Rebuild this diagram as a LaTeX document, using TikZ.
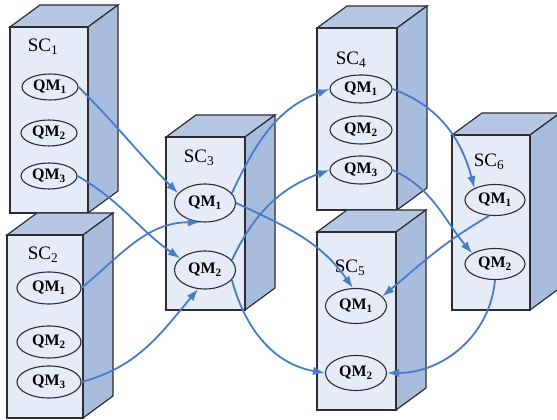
\documentclass[tikz,border=0pt]{standalone}
\usepackage{fontspec}
\setmainfont{Liberation Serif}
\usepackage{tikz}
\usetikzlibrary{
  arrows.meta,      % Latex 箭头
  shapes.geometric, % 椭圆节点
  positioning
}

\definecolor{scfront}{RGB}{229,236,247}
\definecolor{sctop}{RGB}{182,199,228}
\definecolor{scside}{RGB}{168,189,222}
\definecolor{flowblue}{RGB}{72,124,198}
\definecolor{edgegray}{RGB}{45,45,50}

% 立方体服务器：左、下、右、上
\newcommand{\drawsc}[4]{%
  \filldraw[fill=sctop, draw=edgegray] (#1,#4) -- ++(30,22) -- (#3+30,#4+22) -- (#3,#4) -- cycle;
  \filldraw[fill=scside, draw=edgegray] (#3,#4) -- (#3+30,#4+22) -- (#3+30,#2+22) -- (#3,#2) -- cycle;
  \filldraw[fill=scfront, draw=edgegray] (#1,#2) rectangle (#3,#4);
}

\begin{document}
\begin{tikzpicture}[x=1pt, y=1pt, line width=1.2pt,
  sclabel/.style={font=\fontsize{19}{19}\selectfont, inner sep=0pt},
  qm/.style={ellipse, draw=edgegray, fill=scfront, line width=1.1pt, inner sep=0pt,
    font=\bfseries\fontsize{16}{16}\selectfont},
  flow/.style={-{Latex[length=12pt,width=8.5pt]}, draw=flowblue, line width=1.8pt}]

  \useasboundingbox (0,0) rectangle (557,420);

  % =========== 服务器 SC1 ~ SC6 ===========
  \drawsc{10}{207}{88}{393}
  \drawsc{7}{2}{83}{185}
  \drawsc{166}{110}{245}{283}
  \drawsc{317}{210}{397}{392}
  \drawsc{317}{10}{396}{188}
  \drawsc{452}{110}{530}{285}

  % 标签
  \node[sclabel] (sc1) at (43,373) {SC\textsubscript{1}};
  \node[sclabel] (sc2) at (43,165) {SC\textsubscript{2}};
  \node[sclabel] (sc3) at (199,262) {SC\textsubscript{3}};
  \node[sclabel] (sc4) at (351,360) {SC\textsubscript{4}};
  \node[sclabel] (sc5) at (350,152) {SC\textsubscript{5}};
  \node[sclabel] (sc6) at (489,258) {SC\textsubscript{6}};

  % =========== 队列管理器 QM ===========
  \begin{scope}[every node/.append style={qm, minimum width=56, minimum height=26}]
    \node (s1q1) at (50,333) {QM\textsubscript{1}};
    \node (s1q2) at (49,287) {QM\textsubscript{2}};
    \node (s1q3) at (49,244) {QM\textsubscript{3}};
  \end{scope}
  \begin{scope}[every node/.append style={qm, minimum width=64, minimum height=32}]
    \node (s2q1) at (49,132) {QM\textsubscript{1}};
    \node (s2q2) at (49,78) {QM\textsubscript{2}};
    \node (s2q3) at (49,38) {QM\textsubscript{3}};
  \end{scope}
  \begin{scope}[every node/.append style={qm, minimum width=61, minimum height=38}]
    \node (s3q1) at (205,217) {QM\textsubscript{1}};
    \node (s3q2) at (205,150) {QM\textsubscript{2}};
  \end{scope}
  \begin{scope}[every node/.append style={qm, minimum width=62, minimum height=28}]
    \node (s4q1) at (361,331) {QM\textsubscript{1}};
    \node (s4q2) at (361,290) {QM\textsubscript{2}};
    \node (s4q3) at (361,250) {QM\textsubscript{3}};
  \end{scope}
  \begin{scope}[every node/.append style={qm, minimum width=61, minimum height=35}]
    \node (s5q1) at (356,114) {QM\textsubscript{1}};
    \node (s5q2) at (356,47) {QM\textsubscript{2}};
  \end{scope}
  \begin{scope}[every node/.append style={qm, minimum width=60, minimum height=31}]
    \node (s6q1) at (495,220) {QM\textsubscript{1}};
    \node (s6q2) at (495,156) {QM\textsubscript{2}};
  \end{scope}

  % =========== 消息流向 ===========
  \draw[flow] (s1q1.east) to[out=-45,in=135] (s3q1.160);
  \draw[flow] (s1q3.east) to[out=-30,in=145] (s3q2.155);
  \draw[flow] (s2q1.east) to[out=40,in=180] (s3q1.255);
  \draw[flow] (s2q3.east) to[out=15,in=230] (s3q2.250);
  \draw[flow] (s3q1.20) to[out=65,in=200] (s4q1.west);
  \draw[flow] (s3q2.20) to[out=65,in=200] (s4q3.west);
  \draw[flow] (s3q1.east) to[out=-25,in=125] (s5q1.100);
  \draw[flow] (s3q2.-20) to[out=-75,in=170] (s5q2.west);
  \draw[flow] (s4q1.east) to[out=-20,in=105] (s6q1.150);
  \draw[flow] (s4q3.east) to[out=-25,in=130] (s6q2.155);
  \draw[flow] (s6q1.250) to[out=210,in=40] (s5q1.20);
  \draw[flow] (s6q2.south) to[out=-95,in=0] (s5q2.east);

\end{tikzpicture}
\end{document}
